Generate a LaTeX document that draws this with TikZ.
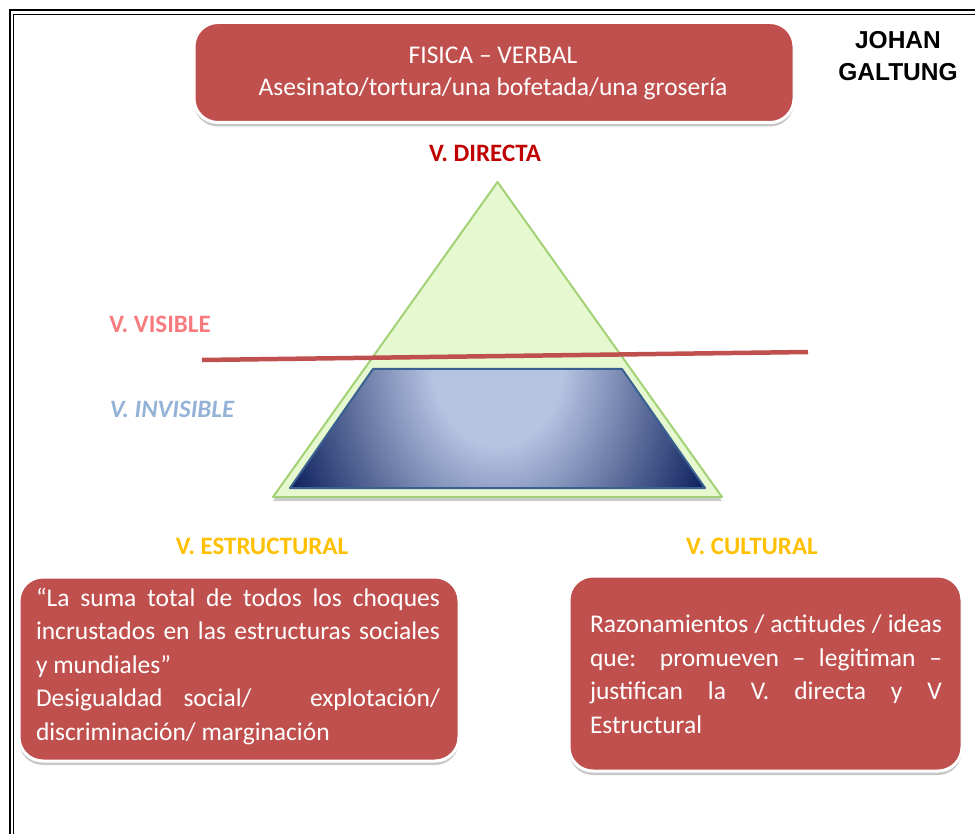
\documentclass[tikz,border=0pt]{standalone}
\usepackage{fontspec}
\setmainfont{Carlito}
\newfontfamily\headfont{Liberation Sans}
\usetikzlibrary{shadows}

\definecolor{boxred}{HTML}{C0504D}
\definecolor{darkred}{HTML}{C00000}
\definecolor{visred}{HTML}{F77B7E}
\definecolor{invblue}{HTML}{95B3D7}
\definecolor{gold}{HTML}{FFC000}
\definecolor{trifill}{HTML}{E5F8D0}
\definecolor{triedge}{HTML}{A2D176}
\definecolor{trlight}{HTML}{B6C4E2}
\definecolor{trdark}{HTML}{081C5A}
\definecolor{tredge}{HTML}{3A6090}

\pgfdeclareradialshading{trapglow}{\pgfpointorigin}{%
  color(0bp)=(trlight); color(7bp)=(trlight); color(25bp)=(trdark); color(50bp)=(trdark)}

\begin{document}
\begin{tikzpicture}[x=1pt,y=-1pt,
  redbox/.style={draw=white, line width=3pt, fill=boxred, rounded corners=24pt,
    inner sep=0pt,
    drop shadow={shadow xshift=0pt, shadow yshift=-4pt, opacity=0.22, fill=black}},
  boxtext/.style={text=white, font=\fontsize{25.5}{33.5}\selectfont, inner sep=0pt},
  level/.style={font=\bfseries\fontsize{25}{30}\selectfont, inner sep=0pt},
]
\useasboundingbox (0,0) rectangle (975,834);

% double frame
\draw[line width=2.3pt] (10,850) -- (10,10.3) -- (990,10.3);
\draw[line width=1pt] (13.6,850) -- (13.6,14.4) -- (990,14.4);

% top box
\node[redbox, minimum width=600pt, minimum height=100pt] (top) at (494,72.5) {};
\node[boxtext, align=center, font=\fontsize{25.5}{32}\selectfont] (toptext) at (493,73)
  {FISICA – VERBAL\\Asesinato/tortura/una bofetada/una grosería};

% author
\node[font=\headfont\bfseries\fontsize{24.5}{32}\selectfont, align=center, inner sep=0pt]
  (author) at (898,56) {JOHAN\\GALTUNG};

% pyramid
\coordinate (apex) at (497.5,182);
\coordinate (bl) at (273,497);
\coordinate (br) at (722,497);
\fill[trifill, draw=triedge, line width=2pt, line join=round,
  drop shadow={shadow xshift=0pt, shadow yshift=-4pt, opacity=0.2, fill=black}]
  (apex) -- (br) -- (bl) -- cycle;

\coordinate (tl) at (373,369);
\coordinate (tr) at (622,369);
\coordinate (lr) at (705,488);
\coordinate (ll) at (290,488);
\draw[tredge, line width=2pt, line join=round,
  path picture={
    \fill[trdark] (path picture bounding box.south west) rectangle (path picture bounding box.north east);
    \shade[shading=trapglow] (497.5,362) ellipse [x radius=232, y radius=300];
  }]
  (tl) -- (tr) -- (lr) -- (ll) -- cycle;

% visibility line
\coordinate (va) at (202,360);
\coordinate (vb) at (808,352);
\draw[boxred, line width=4.5pt] (va) -- (vb);

% labels
\node[level, text=darkred] (directa) at (485,153) {V. DIRECTA};
\node[level, text=visred] (visible) at (160,324) {V. VISIBLE};
\node[level, text=invblue, font=\bfseries\itshape\fontsize{25}{30}\selectfont] (invisible) at (172,409) {V. INVISIBLE};
\node[level, text=gold] (estructural) at (262,546) {V. ESTRUCTURAL};
\node[level, text=gold] (cultural) at (752,546) {V. CULTURAL};

% bottom boxes
\node[redbox, minimum width=440pt, minimum height=184pt] (left) at (239,669) {};
\node[boxtext, align=left] (lefttext) at (238,666) {%
  \makebox[404pt][s]{“La suma total de todos los choques}\\
  \makebox[404pt][s]{incrustados en las estructuras sociales}\\
  \makebox[404pt][l]{y mundiales”}\\
  \makebox[404pt][s]{Desigualdad social/\hspace{2.3em}explotación/}\\
  \makebox[404pt][l]{discriminación/ marginación}};

\node[redbox, minimum width=393pt, minimum height=195pt] (right) at (765.5,673.5) {};
\node[boxtext, align=left] (righttext) at (766,674) {%
  \makebox[352pt][s]{Razonamientos / actitudes / ideas}\\
  \makebox[352pt][s]{que: promueven – legitiman –}\\
  \makebox[352pt][s]{justifican la V. directa y V}\\
  \makebox[352pt][l]{Estructural}};
\end{tikzpicture}
\end{document}
